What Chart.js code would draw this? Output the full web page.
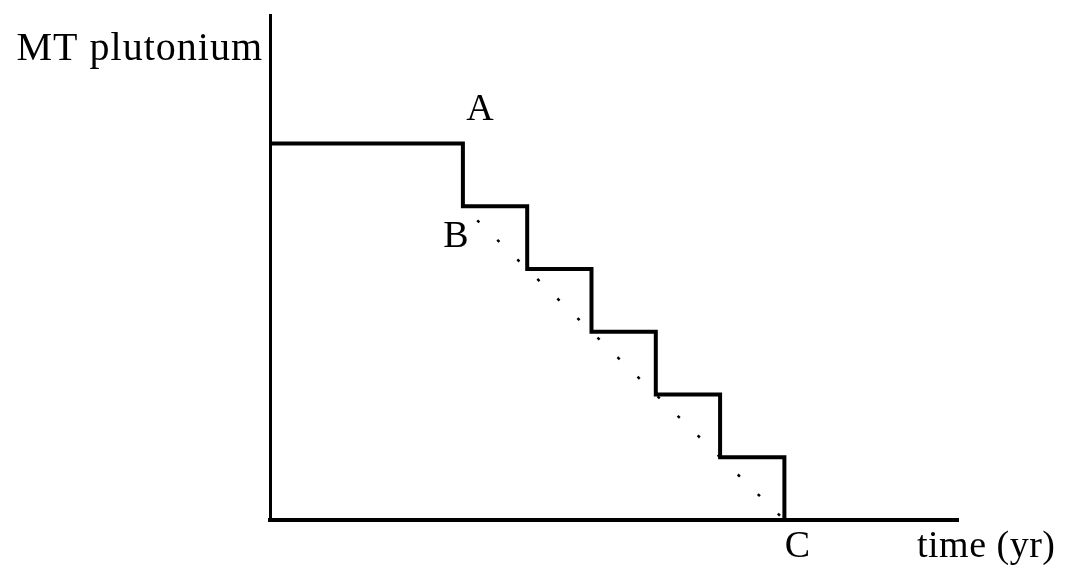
<!DOCTYPE html>
<html>
<head>
<meta charset="utf-8">
<script src="https://cdn.jsdelivr.net/npm/chart.js@4"></script>
<style>
  html, body { margin: 0; padding: 0; background: #fff; }
  #wrap { width: 1067px; height: 565px; }
</style>
</head>
<body>
<div id="wrap"><canvas id="chart"></canvas></div>
<script>
// --- data ---
const stepTimes = [0, 3, 4, 5, 6, 7, 8];
const stepAmounts = [6, 5, 4, 3, 2, 1, 0];
const trendTimes = [3, 8];
const trendAmounts = [5, 0];
const xAxisTitle = 'time (yr)';
const yAxisTitle = 'MT plutonium';
// point labels: [text, time, amount]
const pointLabels = [['A', 3, 6], ['B', 3, 5], ['C', 8, 0]];

const FONT = '"Liberation Serif", "DejaVu Serif", serif';

// draws the two axis titles and the A/B/C marks
const sketchLabels = {
    id: 'sketchLabels',
    afterDraw(chart) {
        const {ctx, chartArea, scales} = chart;
        const x = scales.x, y = scales.y;
        ctx.save();
        ctx.fillStyle = '#000';
        ctx.textBaseline = 'alphabetic';

        ctx.font = '40px ' + FONT;
        ctx.letterSpacing = '1px';
        ctx.textAlign = 'right';
        ctx.fillText(yAxisTitle, chartArea.left - 7, chartArea.top + 45);

        ctx.font = '38px ' + FONT;
        ctx.letterSpacing = '0.5px';
        ctx.textAlign = 'left';
        ctx.fillText(xAxisTitle, chartArea.right - 41, chartArea.bottom + 37);

        ctx.font = '38px ' + FONT;
        ctx.letterSpacing = '0px';
        ctx.textAlign = 'center';
        const offsets = {A: [17, -24], B: [-7, 41], C: [13, 37]};
        pointLabels.forEach(([t, px, py]) => {
            const o = offsets[t];
            ctx.fillText(t, x.getPixelForValue(px) + o[0], y.getPixelForValue(py) + o[1]);
        });
        ctx.restore();
    }
};

new Chart(document.getElementById('chart'), {
    type: 'line',
    data: {
        datasets: [
            {
                data: stepTimes.map((t, i) => ({x: t, y: stepAmounts[i]})),
                stepped: 'before',
                borderColor: '#000',
                borderWidth: 4,
                pointRadius: 0,
                fill: false
            },
            {
                data: trendTimes.map((t, i) => ({x: t, y: trendAmounts[i]})),
                borderColor: '#000',
                borderWidth: 2.5,
                borderDash: [3, 25],
                borderDashOffset: -20,
                pointRadius: 0,
                fill: false
            }
        ]
    },
    options: {
        responsive: true,
        maintainAspectRatio: false,
        animation: false,
        layout: { padding: { left: 262, top: 15, right: 109, bottom: 37 } },
        plugins: { legend: { display: false }, tooltip: { enabled: false } },
        scales: {
            x: {
                type: 'linear', min: 0, max: 10.7,
                ticks: { display: false },
                grid: { display: false },
                border: { display: true, color: '#000', width: 4 }
            },
            y: {
                min: 0, max: 8.05,
                ticks: { display: false },
                grid: { display: false },
                border: { display: true, color: '#000', width: 3 }
            }
        }
    },
    plugins: [sketchLabels]
});
</script>
</body>
</html>
